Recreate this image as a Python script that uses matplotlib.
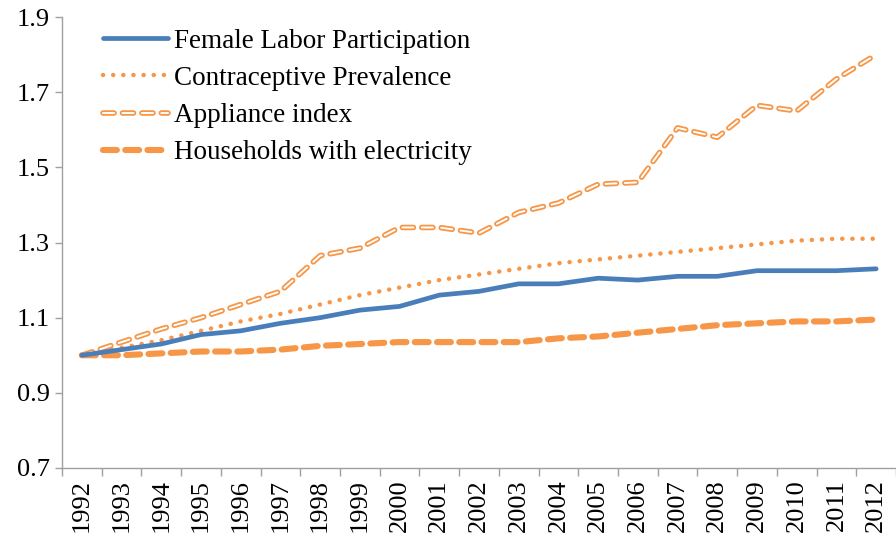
import matplotlib
matplotlib.use("Agg")
import matplotlib.pyplot as plt
from matplotlib.legend_handler import HandlerTuple

plt.rcParams['font.family'] = ['Liberation Serif', 'DejaVu Serif']
plt.rcParams['lines.scale_dashes'] = False

years = [str(y) for y in range(1992, 2013)]
female_labor = [1.0, 1.015, 1.03, 1.055, 1.065, 1.085, 1.10, 1.12, 1.13, 1.16, 1.17,
                1.19, 1.19, 1.205, 1.20, 1.21, 1.21, 1.225, 1.225, 1.225, 1.23]
contraceptive = [1.0, 1.02, 1.04, 1.065, 1.09, 1.11, 1.135, 1.16, 1.18, 1.20, 1.215,
                 1.23, 1.245, 1.255, 1.265, 1.275, 1.285, 1.295, 1.305, 1.31, 1.31]
appliance = [1.0, 1.035, 1.07, 1.10, 1.135, 1.17, 1.265, 1.285, 1.34, 1.34, 1.325,
             1.38, 1.405, 1.455, 1.46, 1.605, 1.58, 1.665, 1.65, 1.735, 1.80]
electricity = [1.0, 1.0, 1.005, 1.01, 1.01, 1.015, 1.025, 1.03, 1.035, 1.035, 1.035,
               1.035, 1.045, 1.05, 1.06, 1.07, 1.08, 1.085, 1.09, 1.09, 1.095]

blue = '#4a7ebb'
orange = '#f79646'

fig = plt.figure(figsize=(8.96, 5.42), dpi=100)
ax = fig.add_axes([62/896, 1 - 468/542, 834/896, (468-17)/542])
x = list(range(len(years)))

l1, = ax.plot(x, female_labor, color=blue, lw=3.4, solid_capstyle='round',
              solid_joinstyle='round', label='Female Labor Participation', zorder=4)
l2, = ax.plot(x, contraceptive, color=orange, lw=3.2, linestyle=(0, (0.1, 7.2)),
              dash_capstyle='round', label='Contraceptive Prevalence', zorder=3)
l3o, = ax.plot(x, appliance, color=orange, lw=4.0, linestyle=(0, (8, 6)),
               dash_capstyle='round', zorder=3)
l3i, = ax.plot(x, appliance, color='white', lw=1.4, linestyle=(0, (8, 6)),
               dash_capstyle='round', zorder=3.1)
l4, = ax.plot(x, electricity, color=orange, lw=4.4, linestyle=(0, (10, 6)),
              dash_capstyle='round', label='Households with electricity', zorder=3)

ax.set_xlim(-0.5, len(years) - 0.5)
ax.set_ylim(0.7, 1.9)
ax.set_yticks([0.7, 0.9, 1.1, 1.3, 1.5, 1.7, 1.9])
ax.set_yticklabels(['0.7', '0.9', '1.1', '1.3', '1.5', '1.7', '1.9'], fontsize=19)
ax.set_xticks(x)
ax.set_xticklabels(years, rotation=90, fontsize=19)
ax.set_xticks([i - 0.5 for i in range(len(years) + 1)], minor=True)
ax.tick_params(axis='x', which='major', length=0, pad=8)
ax.tick_params(axis='x', which='minor', length=6, color='#a0a0a0', width=1)
ax.tick_params(axis='y', length=5, color='#a0a0a0', width=1, pad=4)

for s in ['top', 'right']:
    ax.spines[s].set_visible(False)
for s in ['left', 'bottom']:
    ax.spines[s].set_color('#a0a0a0')
    ax.spines[s].set_linewidth(1)

leg = ax.legend([l1, l2, (l3o, l3i), l4],
                ['Female Labor Participation', 'Contraceptive Prevalence',
                 'Appliance index', 'Households with electricity'],
                handler_map={tuple: HandlerTuple(ndivide=1)},
                loc='upper left', bbox_to_anchor=(0.03, 1.01), frameon=False,
                fontsize=19.5, handlelength=2.4, handletextpad=0.2, labelspacing=0.45,
                borderaxespad=0.2)

fig.savefig('out.png', dpi=100)
